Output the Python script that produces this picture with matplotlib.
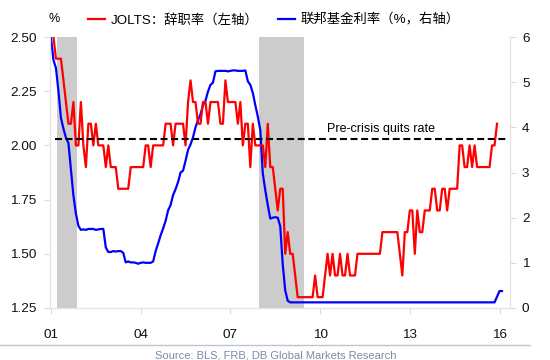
import numpy as np
import matplotlib
matplotlib.use('Agg')
import matplotlib.pyplot as plt

plt.rcParams['font.family'] = ['Liberation Sans', 'Noto Sans CJK SC', 'DejaVu Sans']
plt.rcParams['lines.scale_dashes'] = False

# JOLTS quits rate, monthly from Jan 2001 (left axis, %)
quits = [2.6, 2.5, 2.4, 2.4, 2.4, 2.3, 2.2, 2.1, 2.1, 2.2, 2.0, 2.0,
         2.2, 2.0, 1.9, 2.1, 2.1, 2.0, 2.1, 2.0, 2.0, 2.0, 1.9, 2.0,
         1.9, 1.9, 1.9, 1.8, 1.8, 1.8, 1.8, 1.8, 1.9, 1.9, 1.9, 1.9,
         1.9, 1.9, 2.0, 2.0, 1.9, 2.0, 2.0, 2.0, 2.0, 2.0, 2.1, 2.1,
         2.1, 2.0, 2.1, 2.1, 2.1, 2.1, 2.0, 2.2, 2.3, 2.2, 2.2, 2.1,
         2.1, 2.2, 2.2, 2.1, 2.2, 2.2, 2.2, 2.2, 2.1, 2.1, 2.3, 2.2,
         2.2, 2.2, 2.2, 2.1, 2.2, 2.0, 2.1, 2.1, 1.9, 2.1, 2.0, 2.0,
         2.0, 2.0, 1.9, 2.1, 1.9, 1.9, 1.8, 1.7, 1.8, 1.8, 1.5, 1.6,
         1.5, 1.5, 1.4, 1.3, 1.3, 1.3, 1.3, 1.3, 1.3, 1.3, 1.4, 1.3,
         1.3, 1.3, 1.4, 1.5, 1.4, 1.5, 1.4, 1.4, 1.5, 1.4, 1.4, 1.5,
         1.4, 1.4, 1.4, 1.5, 1.5, 1.5, 1.5, 1.5, 1.5, 1.5, 1.5, 1.5,
         1.5, 1.6, 1.6, 1.6, 1.6, 1.6, 1.6, 1.6, 1.5, 1.4, 1.6, 1.6,
         1.7, 1.7, 1.5, 1.7, 1.6, 1.6, 1.7, 1.7, 1.7, 1.8, 1.8, 1.7,
         1.7, 1.8, 1.8, 1.7, 1.8, 1.8, 1.8, 1.8, 2.0, 2.0, 1.9, 1.9,
         2.0, 1.9, 2.0, 1.9, 1.9, 1.9, 1.9, 1.9, 1.9, 2.0, 2.0, 2.1]

# fed funds rate, monthly from Jan 2001 (right axis, %)
fed_funds = [5.98, 5.49, 5.31, 4.80, 4.21, 3.97, 3.77, 3.65, 3.07, 2.49, 2.09, 1.82,
             1.73, 1.74, 1.73, 1.75, 1.75, 1.75, 1.73, 1.74, 1.75, 1.75, 1.34, 1.24,
             1.24, 1.26, 1.25, 1.26, 1.26, 1.22, 1.01, 1.03, 1.01, 1.01, 1.00, 0.98,
             1.00, 1.01, 1.00, 1.00, 1.00, 1.03, 1.26, 1.43, 1.61, 1.76, 1.93, 2.16,
             2.28, 2.50, 2.63, 2.79, 3.00, 3.04, 3.26, 3.50, 3.62, 3.78, 4.00, 4.16,
             4.29, 4.49, 4.59, 4.79, 4.94, 4.99, 5.24, 5.25, 5.25, 5.25, 5.25, 5.24,
             5.25, 5.26, 5.26, 5.25, 5.25, 5.25, 5.26, 5.02, 4.94, 4.76, 4.49, 4.24,
             3.94, 2.98, 2.61, 2.28, 1.98, 2.00, 2.01, 2.00, 1.81, 0.97, 0.39, 0.16,
             0.125, 0.125, 0.125, 0.125, 0.125, 0.125, 0.125, 0.125, 0.125, 0.125, 0.125, 0.125,
             0.125, 0.125, 0.125, 0.125, 0.125, 0.125, 0.125, 0.125, 0.125, 0.125, 0.125, 0.125,
             0.125, 0.125, 0.125, 0.125, 0.125, 0.125, 0.125, 0.125, 0.125, 0.125, 0.125, 0.125,
             0.125, 0.125, 0.125, 0.125, 0.125, 0.125, 0.125, 0.125, 0.125, 0.125, 0.125, 0.125,
             0.125, 0.125, 0.125, 0.125, 0.125, 0.125, 0.125, 0.125, 0.125, 0.125, 0.125, 0.125,
             0.125, 0.125, 0.125, 0.125, 0.125, 0.125, 0.125, 0.125, 0.125, 0.125, 0.125, 0.125,
             0.125, 0.125, 0.125, 0.125, 0.125, 0.125, 0.125, 0.125, 0.125, 0.125, 0.125, 0.25,
             0.375, 0.375]

recession_start = [2001.2, 2007.97]
recession_end = [2001.88, 2009.47]
precrisis_quits = 2.03

year_ticks = [2001, 2004, 2007, 2010, 2013, 2016]
year_labels = ['01', '04', '07', '10', '13', '16']
left_ticks = [1.25, 1.50, 1.75, 2.00, 2.25, 2.50]
right_ticks = [0, 1, 2, 3, 4, 5, 6]

x_quits = 2001 + np.arange(len(quits)) / 12
x_fed = 2001 + np.arange(len(fed_funds)) / 12

fig = plt.figure(figsize=(5.5, 3.6), dpi=100)
ax = fig.add_axes([50 / 550, 52 / 360, 459.5 / 550, 271 / 360])
ax2 = ax.twinx()

for s, e in zip(recession_start, recession_end):
    ax2.axvspan(s, e, color='#cccccc', lw=0, zorder=0)

blue_line, = ax2.plot(x_fed, fed_funds, color='#0000ff', lw=1.6, zorder=2)
red_line, = ax.plot(x_quits, quits, color='#ff0000', lw=1.6, zorder=3)
ax.axhline(precrisis_quits, xmin=0.01, xmax=0.997, color='black', lw=1.5,
           dashes=(5, 2.6), zorder=4)
ax.text(2012.04, 2.076, 'Pre-crisis quits rate', ha='center', va='center', fontsize=9)

ax.set_zorder(ax2.get_zorder() + 1)
ax.patch.set_visible(False)

ax.set_xlim(2000.967, 2016.334)
ax.set_ylim(1.25, 2.50)
ax2.set_ylim(0, 6)
ax.set_xticks(year_ticks)
ax.set_xticklabels(year_labels)
ax.set_yticks(left_ticks)
ax.set_yticklabels(['%.2f' % v for v in left_ticks])
ax2.set_yticks(right_ticks)

for a in (ax, ax2):
    for sp in a.spines.values():
        sp.set_color('#e3e3e3')
    a.spines['top'].set_visible(False)
    a.tick_params(colors='#dddddd', labelcolor='#111111', labelsize=9.7, length=4)
ax.tick_params(axis='x', pad=11)
ax.tick_params(axis='y', pad=5.5)
ax2.tick_params(axis='y', pad=5)

fig.text(53.7 / 550, 1 - 19.3 / 360, '%', ha='center', va='center', fontsize=9)
fig.legend([red_line, blue_line], ['JOLTS：辞职率（左轴）', '联邦基金利率（%，右轴）'],
           loc='center left', bbox_to_anchor=(87.7 / 550, 1 - 20 / 360), ncol=2,
           frameon=False, handlelength=1.3, handletextpad=0.4,
           columnspacing=1.5, borderpad=0, borderaxespad=0,
           prop={'family': ['Liberation Sans', 'Noto Sans CJK SC'], 'size': 9.6})

fig.add_artist(plt.Line2D([0, 530 / 550], [1 - 345 / 360] * 2, transform=fig.transFigure,
                          color='#b9c6d4', lw=1))
fig.text(275.5 / 550, 1 - 355 / 360, 'Source: BLS, FRB, DB Global Markets Research',
         ha='center', va='center', fontsize=8, color='#7b8ca3')

fig.savefig('out.png', dpi=100)
